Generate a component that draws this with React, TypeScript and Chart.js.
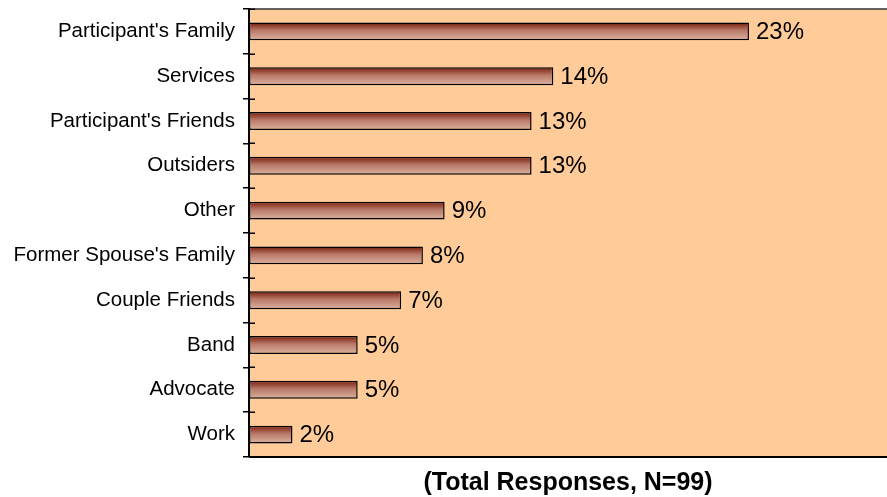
import React, { useEffect, useRef } from "react";
import { Chart, registerables } from "chart.js";

Chart.register(...registerables);

const categories = [
  "Participant's Family",
  "Services",
  "Participant's Friends",
  "Outsiders",
  "Other",
  "Former Spouse's Family",
  "Couple Friends",
  "Band",
  "Advocate",
  "Work",
];
const values = [23, 14, 13, 13, 9, 8, 7, 5, 5, 2];
const axisTitle = "(Total Responses, N=99)";

const FONT = "'Liberation Sans', Arial, sans-serif";

const bgPlugin = {
  id: "bgPlugin",
  beforeDraw(chart: any) {
    const { ctx, chartArea } = chart;
    if (!chartArea) return;
    ctx.save();
    ctx.fillStyle = "#FFCC99";
    ctx.fillRect(chartArea.left, chartArea.top, chartArea.right - chartArea.left, chartArea.bottom - chartArea.top);
    ctx.strokeStyle = "#333333";
    ctx.lineWidth = 1.5;
    ctx.beginPath();
    ctx.moveTo(chartArea.left, chartArea.top);
    ctx.lineTo(chartArea.right, chartArea.top);
    ctx.stroke();
    ctx.strokeStyle = "#000000";
    ctx.lineWidth = 2;
    ctx.beginPath();
    ctx.moveTo(chartArea.left, chartArea.bottom);
    ctx.lineTo(chartArea.right, chartArea.bottom);
    ctx.stroke();
    ctx.restore();
  },
  afterDatasetsDraw(chart: any) {
    const { ctx, chartArea } = chart;
    const meta = chart.getDatasetMeta(0);
    const ys = chart.scales.y;
    ctx.save();
    // inner half of the crossing tick marks
    ctx.strokeStyle = "#000000";
    ctx.lineWidth = 1.5;
    ctx.beginPath();
    for (let i = 0; i <= categories.length; i++) {
      const y = Math.round(ys.getPixelForValue(i - 0.5)) + 0.25;
      ctx.moveTo(chartArea.left, y);
      ctx.lineTo(chartArea.left + 6, y);
    }
    ctx.stroke();
    ctx.fillStyle = "#000";
    ctx.font = `24px ${FONT}`;
    ctx.textAlign = "left";
    ctx.textBaseline = "middle";
    meta.data.forEach((el: any, i: number) => {
      ctx.fillText(`${values[i]}%`, el.x + 7, el.y + 1);
    });
    ctx.font = `bold 25px ${FONT}`;
    ctx.textAlign = "center";
    ctx.fillText(axisTitle, (chartArea.left + chartArea.right) / 2, chartArea.bottom + 26);
    ctx.restore();
  },
};

export default function App() {
  const ref = useRef<HTMLCanvasElement>(null);
  useEffect(() => {
    if (!ref.current) return;
    const chart = new Chart(ref.current, {
      type: "bar",
      data: {
        labels: categories,
        datasets: [
          {
            data: values,
            backgroundColor: (c: any) => {
              const ch = c.chart;
              const { ctx, chartArea } = ch;
              const ys = ch.scales && ch.scales.y;
              if (!chartArea || !ys || c.dataIndex === undefined) return "#b07060";
              const cy = ys.getPixelForValue(c.dataIndex);
              const g = ctx.createLinearGradient(0, cy - 9, 0, cy + 9);
              g.addColorStop(0, "#5a160c");
              g.addColorStop(0.15, "#8e3a2a");
              g.addColorStop(0.45, "#b97a6a");
              g.addColorStop(1, "#dcb2a0");
              return g;
            },
            borderColor: "#000000",
            borderWidth: 1.5,
            borderSkipped: false,
            barPercentage: 0.4,
            categoryPercentage: 1,
          },
        ],
      },
      options: {
        indexAxis: "y",
        responsive: false,
        animation: false,
        layout: { padding: { top: 9, bottom: 40, left: 0, right: 0 } },
        plugins: { legend: { display: false }, tooltip: { enabled: false } },
        scales: {
          x: {
            display: false,
            min: 0,
            max: 29.35,
          },
          y: {
            afterFit(scale: any) {
              scale.width = 249;
              scale.paddingTop = 0;
              scale.paddingBottom = 0;
            },
            grid: {
              drawOnChartArea: false,
              drawTicks: true,
              tickLength: 6,
              color: "#000000",
              lineWidth: 1.5,
              offset: true,
            },
            border: { display: true, color: "#000000", width: 2 },
            ticks: {
              color: "#000000",
              padding: 8,
              font: { family: FONT, size: 20.5 },
            },
          },
        },
      },
      plugins: [bgPlugin],
    });
    return () => chart.destroy();
  }, []);
  return (
    <div style={{ position: "absolute", left: 0, top: 0, width: 887, height: 497, background: "#fff" }}>
      <canvas ref={ref} width={887} height={497} />
    </div>
  );
}
